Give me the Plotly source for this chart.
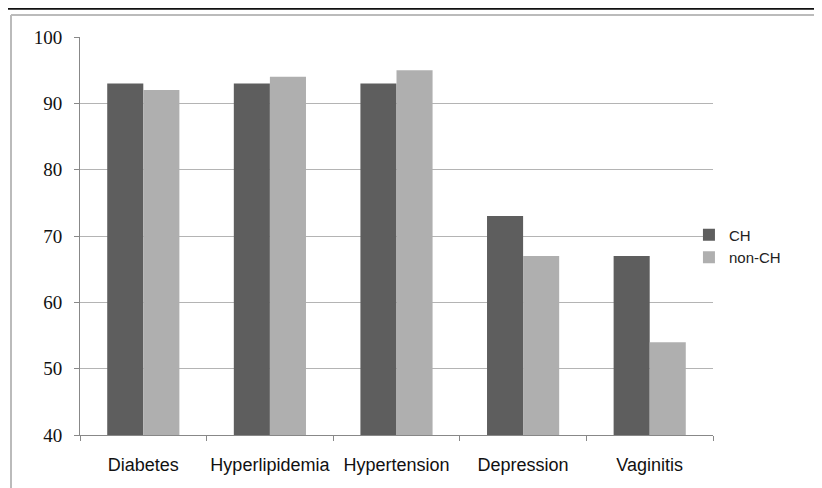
import plotly.graph_objects as go

categories = ["Diabetes", "Hyperlipidemia", "Hypertension", "Depression", "Vaginitis"]
ch_values = [93, 93, 93, 73, 67]
nonch_values = [92, 94, 95, 67, 54]
y_ticks = [40, 50, 60, 70, 80, 90, 100]

fig = go.Figure()
fig.add_trace(go.Bar(x=categories, y=ch_values, name="CH", marker=dict(color="#5e5e5e", line=dict(width=0))))
fig.add_trace(go.Bar(x=categories, y=nonch_values, name="non-CH", marker=dict(color="#afafaf", line=dict(width=0))))

fig.update_layout(
    width=814, height=480,
    margin=dict(l=72, r=109, t=29, b=53),
    paper_bgcolor="white", plot_bgcolor="white",
    barmode="group", bargap=0.43, bargroupgap=0,
    showlegend=True,
    legend=dict(x=0.962, y=0.475, xanchor="left", yanchor="middle",
                font=dict(family="Liberation Sans, Arial", size=15, color="#222"),
                itemwidth=30, tracegroupgap=4, bgcolor="rgba(0,0,0,0)"),
    xaxis=dict(showline=True, linecolor="#888", linewidth=1,
               ticks="outside", tickson="boundaries", ticklen=5, tickcolor="#888",
               ticklabelstandoff=13, tickangle=0, automargin=False,
               tickfont=dict(family="Liberation Sans, Arial", size=18, color="#111"),
               showgrid=False),
    yaxis=dict(range=[40, 100], tickvals=y_ticks, showline=True, linecolor="#888", linewidth=1,
               ticks="outside", ticklen=5, tickcolor="#888",
               ticklabelstandoff=8, automargin=False,
               showgrid=True, gridcolor="#b4b4b4", gridwidth=1,
               tickfont=dict(family="Liberation Serif, Times New Roman", size=19, color="#111"),
               zeroline=False),
    shapes=[
        dict(type="line", xref="paper", yref="paper", x0=-0.2, x1=1.3, y0=1.071, y1=1.071,
             line=dict(color="#111", width=2)),
        dict(type="line", xref="paper", yref="paper", x0=-0.109, x1=1.3, y0=1.055, y1=1.055,
             line=dict(color="#bbbbbb", width=2)),
        dict(type="line", xref="paper", yref="paper", x0=-0.109, x1=-0.109, y0=-0.2, y1=1.055,
             line=dict(color="#bbbbbb", width=2)),
    ],
)

fig.write_html("out.html")
